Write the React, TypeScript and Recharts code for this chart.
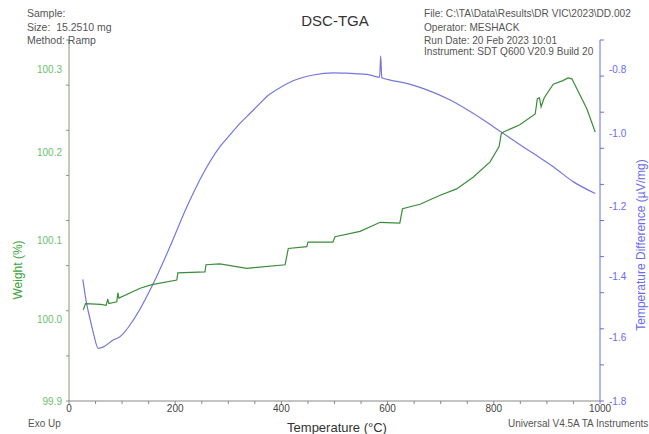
import { LineChart, Line, XAxis, YAxis } from 'recharts';

// TGA weight curve (temperature °C, weight %)
const weightTemp = [27, 31, 60, 70, 73, 75, 90, 92, 94, 134, 156, 203, 205, 256, 258, 284, 335, 407, 413, 448, 450, 497, 501, 548, 586, 623, 628, 661, 699, 730, 761, 793, 810, 814, 818, 849, 878, 882, 886, 889, 895, 912, 930, 940, 947, 975, 991];
const weightPct = [100.001, 100.008, 100.007, 100.006, 100.013, 100.008, 100.01, 100.02, 100.014, 100.025, 100.029, 100.034, 100.042, 100.043, 100.051, 100.052, 100.047, 100.051, 100.069, 100.071, 100.076, 100.076, 100.082, 100.088, 100.098, 100.097, 100.113, 100.118, 100.128, 100.135, 100.148, 100.165, 100.182, 100.196, 100.198, 100.206, 100.218, 100.235, 100.236, 100.226, 100.236, 100.251, 100.255, 100.258, 100.257, 100.224, 100.198];

// DSC curve (temperature °C, µV/mg)
const dscTemp = [26, 33, 40, 46, 55, 65, 83, 96, 121, 159, 190, 222, 253, 284, 303, 322, 341, 360, 372, 391, 422, 460, 498, 523, 548, 562, 579, 585, 587, 589, 592, 605, 636, 674, 718, 761, 799, 836, 874, 912, 950, 991];
const dscVal = [-1.463, -1.529, -1.575, -1.612, -1.654, -1.65, -1.631, -1.622, -1.576, -1.474, -1.373, -1.262, -1.169, -1.096, -1.063, -1.031, -1.003, -0.975, -0.957, -0.938, -0.913, -0.897, -0.891, -0.892, -0.894, -0.895, -0.902, -0.903, -0.844, -0.904, -0.906, -0.911, -0.92, -0.938, -0.966, -1.003, -1.04, -1.077, -1.114, -1.151, -1.193, -1.225];

const xTicks = [0, 50, 100, 150, 200, 250, 300, 350, 400, 450, 500, 550, 600, 650, 700, 750, 800, 850, 900, 950, 1000];
const weightTicks = [99.9, 99.925, 99.95, 99.975, 100.0, 100.025, 100.05, 100.075, 100.1, 100.125, 100.15, 100.175, 100.2, 100.225, 100.25, 100.275, 100.3];
const dscTicks = [-1.8, -1.75, -1.7, -1.65, -1.6, -1.55, -1.5, -1.45, -1.4, -1.35, -1.3, -1.25, -1.2, -1.15, -1.1, -1.05, -1.0, -0.95, -0.9, -0.85, -0.8];

// the instrument printout sets its axis labels a little below their tick marks
const weightLabelDrop: Record<string, number> = { '99.9': 0, '100.0': 9, '100.1': 20, '100.2': 22, '100.3': 29 };
const dscLabelDrop: Record<string, number> = { '-1.8': 0, '-1.6': 9, '-1.4': 20, '-1.2': 22, '-1.0': 21, '-0.8': 29 };

const weightData = weightTemp.map((t, i) => ({ t, w: weightPct[i] }));
const dscData = dscTemp.map((t, i) => ({ t, d: dscVal[i] }));

const font = '"Liberation Sans", Arial, sans-serif';

const onStep = (v: number, step: number) => Math.abs(v / step - Math.round(v / step)) < 1e-6;

function makeTick(step: number, drop: Record<string, number>, fill: string, anchor: 'start' | 'end') {
  return (props: any) => {
    const v = props.payload.value as number;
    if (!onStep(v, step)) return <g />;
    const label = v.toFixed(1);
    return (
      <text x={props.x} y={props.y + (drop[label] ?? 0)} dy="0.355em" textAnchor={anchor} fill={fill} fontSize={10} fontFamily={font}>
        {label}
      </text>
    );
  };
}

export default function App() {
  return (
    <div style={{ position: 'absolute', left: 0, top: 0, width: 649, height: 434, background: '#fff', fontFamily: font, overflow: 'hidden' }}>
      <LineChart width={649} height={434} margin={{ top: 40, right: 0, bottom: 13, left: 0 }}>
        <XAxis
          xAxisId="b"
          dataKey="t"
          type="number"
          domain={[0, 1000]}
          ticks={xTicks}
          tickFormatter={(v: number) => (onStep(v, 200) ? String(v) : '')}
          tick={{ fill: '#444', fontSize: 10, fontFamily: font }}
          tickSize={3}
          tickMargin={1}
          height={20}
          stroke="#888"
          allowDuplicatedCategory={false}
        />
        <XAxis xAxisId="top" orientation="top" type="number" dataKey="t" domain={[0, 1000]} tick={false} tickLine={false} height={0} stroke="#999" />
        <YAxis
          yAxisId="w"
          orientation="left"
          type="number"
          domain={[99.9, 100.3]}
          ticks={weightTicks}
          tick={makeTick(0.1, weightLabelDrop, '#6cbf6c', 'end')}
          tickSize={3}
          tickMargin={4}
          width={69}
          stroke="#7f9a7f"
          allowDataOverflow
        />
        <YAxis
          yAxisId="d"
          orientation="right"
          type="number"
          domain={[-1.8, -0.8]}
          ticks={dscTicks}
          tick={makeTick(0.2, dscLabelDrop, '#6a6af0', 'start')}
          tickSize={4}
          tickMargin={5}
          width={49}
          stroke="#6a6ae8"
          allowDataOverflow
        />
        <Line xAxisId="b" yAxisId="d" data={dscData} dataKey="d" type="monotone" stroke="#7676dc" strokeWidth={1.2} dot={false} isAnimationActive={false} />
        <Line xAxisId="b" yAxisId="w" data={weightData} dataKey="w" type="linear" stroke="#3a8c3a" strokeWidth={1.2} dot={false} isAnimationActive={false} />
      </LineChart>
      <svg width={649} height={434} style={{ position: 'absolute', left: 0, top: 0, pointerEvents: 'none' }} fontFamily={font}>
        <g fontSize={10.5} fill="#555">
          <text x={27} y={17}>Sample:</text>
          <text x={27} y={31} xmlSpace="preserve">Size:  15.2510 mg</text>
          <text x={27} y={44}>Method: Ramp</text>
        </g>
        <text x={335} y={26} fontSize={15} fill="#333" textAnchor="middle">DSC-TGA</text>
        <g fontSize={10.1} fill="#555">
          <text x={424} y={17}>File: C:\TA\Data\Results\DR VIC\2023\DD.002</text>
          <text x={424} y={31}>Operator: MESHACK</text>
          <text x={424} y={44}>Run Date: 20 Feb 2023 10:01</text>
          <text x={424} y={55}>Instrument: SDT Q600 V20.9 Build 20</text>
        </g>
        <text x={18} y={270} fontSize={12} fill="#3aa43a" textAnchor="middle" dominantBaseline="central" transform="rotate(-90 18 270)">Weight (%)</text>
        <text x={641} y={245} fontSize={12} fill="#6a6af0" textAnchor="middle" dominantBaseline="central" transform="rotate(-90 641 245)">Temperature Difference (µV/mg)</text>
        <text x={337} y={432} fontSize={13} fill="#333" textAnchor="middle">Temperature (°C)</text>
        <text x={28} y={427} fontSize={10} fill="#555">Exo Up</text>
        <text x={508} y={427} fontSize={10} fill="#555">Universal V4.5A TA Instruments</text>
      </svg>
    </div>
  );
}
